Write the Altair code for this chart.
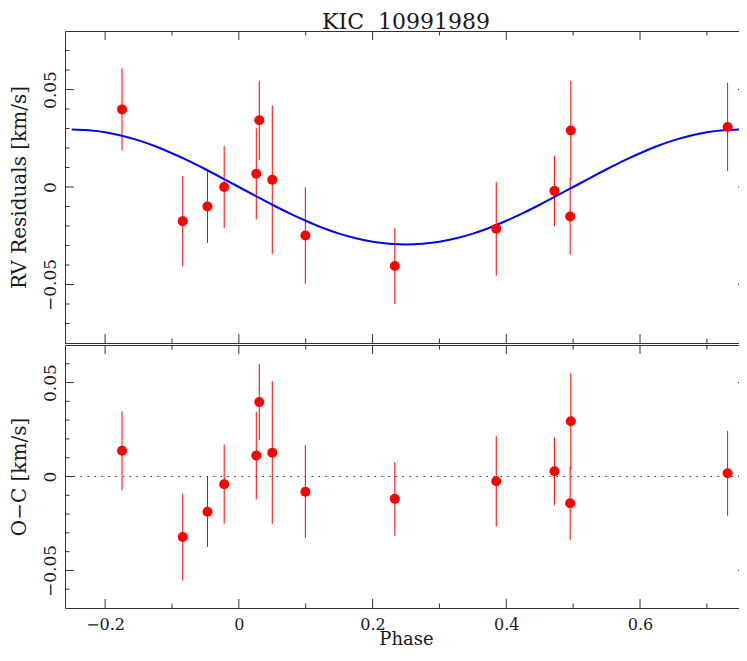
import altair as alt
import pandas as pd

# ---- data ----
phase = [-0.1747, -0.0839, -0.0469, -0.0219, 0.0261, 0.0306, 0.050, 0.0995,
         0.2333, 0.385, 0.472, 0.4965, 0.4955, 0.731]
rv_resid = [0.0398, -0.0175, -0.0100, 0.0000, 0.0068, 0.0342, 0.0037, -0.0249,
            -0.0405, -0.0214, -0.0020, 0.0290, -0.0151, 0.0308]
o_minus_c = [0.0137, -0.0322, -0.0188, -0.0041, 0.0112, 0.0396, 0.0127, -0.0081,
             -0.0119, -0.0025, 0.0028, 0.0294, -0.0142, 0.0017]
err = [0.0210, 0.0232, 0.0187, 0.0210, 0.0233, 0.0203, 0.0380, 0.0247,
       0.0196, 0.0240, 0.0180, 0.0255, 0.0196, 0.0226]

curve_phase = [-0.25, -0.225, -0.2, -0.175, -0.15, -0.125, -0.1, -0.075, -0.05, -0.025,
               0.0, 0.025, 0.05, 0.075, 0.1, 0.125, 0.15, 0.175, 0.2, 0.225,
               0.25, 0.275, 0.3, 0.325, 0.35, 0.375, 0.4, 0.425, 0.45, 0.475,
               0.5, 0.525, 0.55, 0.575, 0.6, 0.625, 0.65, 0.675, 0.7, 0.725, 0.75]
curve_rv = [0.0295, 0.0291, 0.0281, 0.0263, 0.0239, 0.0209, 0.0173, 0.0134, 0.0091, 0.0046,
            0.0, -0.0046, -0.0091, -0.0134, -0.0173, -0.0209, -0.0239, -0.0263, -0.0281, -0.0291,
            -0.0295, -0.0291, -0.0281, -0.0263, -0.0239, -0.0209, -0.0173, -0.0134, -0.0091, -0.0046,
            0.0, 0.0046, 0.0091, 0.0134, 0.0173, 0.0209, 0.0239, 0.0263, 0.0281, 0.0291, 0.0295]

x_major = [-0.2, 0.0, 0.2, 0.4, 0.6]
x_minor = [-0.1, 0.1, 0.3, 0.5, 0.7]
y_major = [-0.05, 0.0, 0.05]
y_minor_top = [-0.07, -0.06, -0.04, -0.03, -0.02, -0.01, 0.01, 0.02, 0.03, 0.04, 0.06, 0.07]
y_minor_bot = [-0.06, -0.04, -0.03, -0.02, -0.01, 0.01, 0.02, 0.03, 0.04, 0.06]
zero_line = [0.0]

title_text = "KIC\u00a0\u00a010991989"
top_ytitle = "RV Residuals [km/s]"
bot_ytitle = "O\u2212C [km/s]"
xtitle = "Phase"

# ---- style ----
W, H1, H2 = 682, 312, 263
FONT = "DejaVu Serif"
INK = "#1a1a1a"
FRAME = "#333333"
MAJ, MIN = 9, 4.5
XDOM = [-0.26, 0.76]
xs = alt.Scale(domain=XDOM, nice=False, zero=False)

pts = pd.DataFrame({"x": phase, "rv": rv_resid, "oc": o_minus_c, "e": err})
pts["rv_lo"] = pts["rv"] - pts["e"]
pts["rv_hi"] = pts["rv"] + pts["e"]
pts["oc_lo"] = pts["oc"] - pts["e"]
pts["oc_hi"] = pts["oc"] + pts["e"]
curve = pd.DataFrame({"x": curve_phase, "y": curve_rv})


def yaxis(title):
    return alt.Axis(values=y_major, format="~g", ticks=False, domain=False, grid=False,
                    labelAngle=270, labelAlign="center", labelBaseline="alphabetic",
                    labelPadding=10, labelFont=FONT, labelFontSize=17, labelColor=INK,
                    labelOverlap=False,
                    title=title, titleFont=FONT, titleFontSize=20, titleFontWeight="normal",
                    titleColor=INK, titlePadding=12)


def xaxis_bottom():
    return alt.Axis(values=x_major, format="~g", ticks=False, domain=False, grid=False,
                    labelFont=FONT, labelFontSize=16, labelColor=INK, labelPadding=8,
                    labelFlush=False, labelOverlap=False,
                    title=xtitle, titleFont=FONT, titleFontSize=18, titleFontWeight="normal",
                    titleColor=INK, titleY=36, titleBaseline="alphabetic")


def tick_layers(xax, ys, yax, ymin_vals, H):
    out = []
    for vals, L in ((x_major, MAJ), (x_minor, MIN)):
        b = alt.Chart(pd.DataFrame({"x": vals})).mark_rule(color=FRAME, strokeWidth=1)
        xe = alt.X("x:Q", scale=xs, axis=xax)
        out.append(b.encode(x=xe, y=alt.value(0), y2=alt.value(L)))
        out.append(b.encode(x=xe, y=alt.value(H), y2=alt.value(H - L)))
    for vals, L in ((y_major, MAJ), (ymin_vals, MIN)):
        b = alt.Chart(pd.DataFrame({"y": vals})).mark_rule(color=FRAME, strokeWidth=1)
        ye = alt.Y("y:Q", scale=ys, axis=yax)
        out.append(b.encode(y=ye, x=alt.value(0), x2=alt.value(L)))
        out.append(b.encode(y=ye, x=alt.value(W), x2=alt.value(W - L)))
    return out


# ---- top panel ----
ys_top = alt.Scale(domain=[-0.08, 0.08], nice=False, zero=False)
ax_top_y = yaxis(top_ytitle)
top_bars = alt.Chart(pts).mark_rule(color="#ff0000", strokeWidth=1).encode(
    x=alt.X("x:Q", scale=xs, axis=None),
    y=alt.Y("rv_lo:Q", scale=ys_top, axis=ax_top_y),
    y2="rv_hi:Q",
)
top_curve = alt.Chart(curve).mark_line(color="#0000ff", strokeWidth=2, interpolate="monotone").encode(
    x=alt.X("x:Q", scale=xs, axis=None),
    y=alt.Y("y:Q", scale=ys_top, axis=ax_top_y),
)
top_pts = alt.Chart(pts).mark_circle(color="#ff0000", size=100, opacity=1).encode(
    x=alt.X("x:Q", scale=xs, axis=None),
    y=alt.Y("rv:Q", scale=ys_top, axis=ax_top_y),
)
top = alt.layer(top_bars, top_curve, top_pts,
                *tick_layers(None, ys_top, ax_top_y, y_minor_top, H1)).properties(
    width=W, height=H1,
    title=alt.TitleParams(title_text, font=FONT, fontSize=22, fontWeight="normal", color=INK,
                          anchor="middle", frame="group", offset=-3),
)

# ---- bottom panel ----
ys_bot = alt.Scale(domain=[-0.07, 0.07], nice=False, zero=False)
ax_bot_y = yaxis(bot_ytitle)
ax_bot_x = xaxis_bottom()
bot_bars = alt.Chart(pts).mark_rule(color="#ff0000", strokeWidth=1).encode(
    x=alt.X("x:Q", scale=xs, axis=ax_bot_x),
    y=alt.Y("oc_lo:Q", scale=ys_bot, axis=ax_bot_y),
    y2="oc_hi:Q",
)
bot_zero = alt.Chart(pd.DataFrame({"y": zero_line})).mark_rule(
    color=FRAME, strokeWidth=1, strokeDash=[1.5, 5.5]).encode(
    y=alt.Y("y:Q", scale=ys_bot, axis=ax_bot_y),
)
bot_pts = alt.Chart(pts).mark_circle(color="#ff0000", size=100, opacity=1).encode(
    x=alt.X("x:Q", scale=xs, axis=ax_bot_x),
    y=alt.Y("oc:Q", scale=ys_bot, axis=ax_bot_y),
)
bottom = alt.layer(bot_bars, bot_zero, bot_pts,
                   *tick_layers(ax_bot_x, ys_bot, ax_bot_y, y_minor_bot, H2)).properties(
    width=W, height=H2,
)

chart = alt.vconcat(top, bottom, spacing=0).properties(
    padding={"left": 0, "top": 2, "right": -9, "bottom": 0}
).configure_view(stroke=FRAME, strokeWidth=1)

chart.save("out.html", embed_options={"renderer": "svg", "actions": False})
